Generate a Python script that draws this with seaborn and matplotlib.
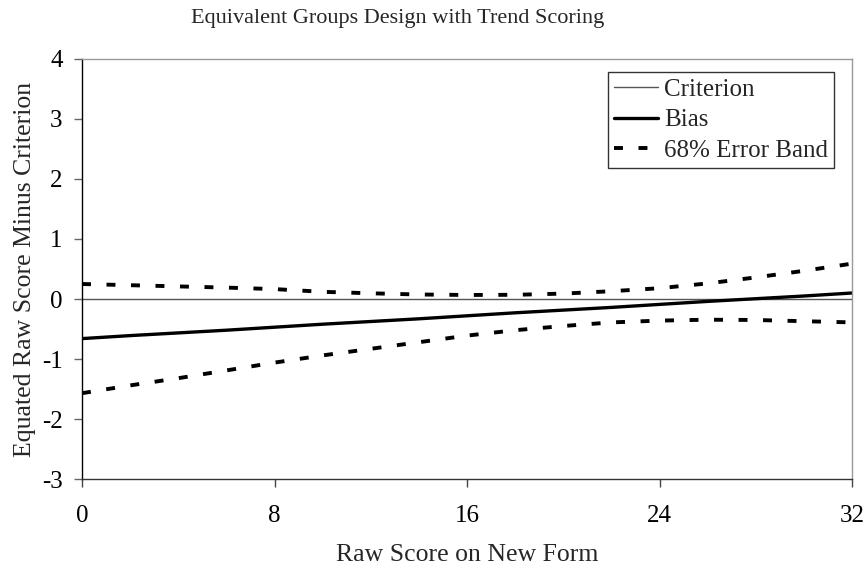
import matplotlib
matplotlib.use("Agg")
import matplotlib.pyplot as plt
import seaborn as sns
import pandas as pd

title = "Equivalent Groups Design with Trend Scoring"
x_label = "Raw Score on New Form"
y_label = "Equated Raw Score Minus Criterion"
x_ticks = [0, 8, 16, 24, 32]
y_ticks = [-3, -2, -1, 0, 1, 2, 3, 4]

raw_score = [0, 2, 4, 6, 8, 10, 12, 14, 16, 18, 20, 22, 24, 26, 28, 30, 32]
criterion = [0] * 17
bias = [-0.66, -0.61, -0.565, -0.52, -0.47, -0.42, -0.375, -0.33, -0.28,
        -0.23, -0.185, -0.14, -0.09, -0.04, 0.005, 0.05, 0.10]
band_upper = [0.25, 0.23, 0.21, 0.19, 0.165, 0.12, 0.095, 0.075, 0.067,
              0.07, 0.09, 0.13, 0.18, 0.26, 0.36, 0.47, 0.59]
band_lower = [-1.57, -1.44, -1.32, -1.19, -1.06, -0.94, -0.83, -0.72, -0.61,
              -0.52, -0.45, -0.39, -0.36, -0.345, -0.35, -0.37, -0.39]

df = pd.DataFrame({"x": raw_score, "criterion": criterion, "bias": bias,
                   "upper": band_upper, "lower": band_lower})

sns.set_theme(style="white")
plt.rcParams['font.family'] = ['Liberation Serif', 'DejaVu Serif']
plt.rcParams['axes.unicode_minus'] = False

fig = plt.figure(figsize=(8.66, 5.71), dpi=100)
ax = fig.add_axes([0.0947, 0.1611, 0.984 - 0.0947, 0.8967 - 0.1611])

sns.lineplot(data=df, x="x", y="criterion", ax=ax, color="#555555", lw=1.0,
             label="Criterion")
sns.lineplot(data=df, x="x", y="bias", ax=ax, color="black", lw=2.4,
             label="Bias")
sns.lineplot(data=df, x="x", y="upper", ax=ax, color="black", lw=2.8,
             label="68% Error Band")
sns.lineplot(data=df, x="x", y="lower", ax=ax, color="black", lw=2.8)
for line in ax.lines[2:]:
    line.set_dashes((2.3, 4.0))

ax.set_xlim(0, 32)
ax.set_ylim(-3, 4)
ax.set_xticks(x_ticks)
ax.set_yticks(y_ticks)
ax.set_xlabel(x_label, fontsize=18.5, labelpad=12)
ax.set_ylabel(y_label, fontsize=18.5, labelpad=4)
fig.text(398 / 866, 1 - 19 / 571, title, fontsize=16, ha="center", va="center")

for side in ["top", "right"]:
    ax.spines[side].set_color("#999999")
    ax.spines[side].set_linewidth(1.0)
ax.spines["bottom"].set_color("#333333")
ax.spines["bottom"].set_linewidth(1.0)
ax.spines["left"].set_color("black")
ax.spines["left"].set_linewidth(1.0)
ax.tick_params(axis="both", which="major", direction="out", length=6,
               width=1.0, color="#666666", labelsize=18, labelcolor="black",
               pad=8)
ax.tick_params(axis="x", pad=13, color="#444444")
ax.tick_params(bottom=True, left=True)

leg = ax.legend(loc="upper right", bbox_to_anchor=(0.9766, 0.969),
                fontsize=18, frameon=True, fancybox=False, handlelength=1.75,
                handletextpad=0.25, borderpad=0.25, labelspacing=0.32,
                borderaxespad=0)
leg.get_frame().set_edgecolor("black")
leg.get_frame().set_linewidth(1.0)

fig.savefig("out.png", dpi=100)
